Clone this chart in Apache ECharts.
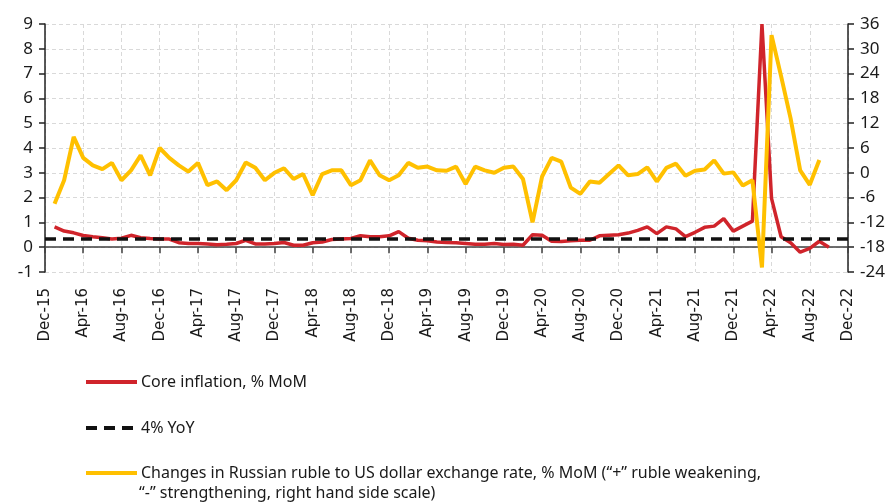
<!DOCTYPE html>
<html>
	<head>
		<meta charset="UTF-8" />
		<title>Core inflation and ruble</title>
		<style>
			html, body { margin: 0; padding: 0; background: #fff; }
			#pic { width: 892px; height: 502px; }
		</style>
	</head>
	<body>
		<div id="pic"></div>
		<script src="https://cdn.jsdelivr.net/npm/echarts@6/dist/echarts.min.js"></script>
		<script>
			// monthly axis Dec-15 .. Dec-22
			var monthNames = ['Jan', 'Feb', 'Mar', 'Apr', 'May', 'Jun', 'Jul', 'Aug', 'Sep', 'Oct', 'Nov', 'Dec'];
			var categories = ['Dec-15'];
			for (var yr = 16; yr <= 22; yr++) {
				for (var mi = 0; mi < 12; mi++) {
					categories.push(monthNames[mi] + '-' + yr);
				}
			}

			// core inflation, % MoM (Jan-16 .. Oct-22), left axis
			var coreInflation = [
				0.82, 0.65, 0.58, 0.47, 0.42, 0.38, 0.33, 0.36, 0.48, 0.38, 0.35, 0.33,
				0.33, 0.18, 0.15, 0.15, 0.13, 0.10, 0.12, 0.15, 0.28, 0.13, 0.13, 0.15,
				0.19, 0.08, 0.08, 0.18, 0.21, 0.31, 0.33, 0.35, 0.46, 0.42, 0.42, 0.46,
				0.63, 0.36, 0.28, 0.26, 0.21, 0.19, 0.18, 0.15, 0.12, 0.12, 0.15, 0.11,
				0.12, 0.08, 0.50, 0.48, 0.24, 0.23, 0.26, 0.28, 0.28, 0.46, 0.48, 0.50,
				0.57, 0.68, 0.82, 0.55, 0.82, 0.74, 0.43, 0.60, 0.80, 0.85, 1.15, 0.65,
				0.85, 1.05, 9.00, 1.97, 0.42, 0.18, -0.20, -0.05, 0.24, 0.00
			];

			// ruble vs USD, % MoM (Jan-16 .. Sep-22), right axis
			var rubleChange = [
				-7.5, -1.8, 8.7, 3.6, 1.8, 0.9, 2.4, -1.8, 0.6, 4.2, -0.6, 6.0,
				3.6, 1.8, 0.3, 2.4, -3.0, -2.1, -4.2, -1.8, 2.5, 1.2, -1.8, 0.0,
				1.1, -1.5, -0.3, -5.4, -0.3, 0.6, 0.6, -3.0, -1.8, 3.0, -0.6, -1.8,
				-0.6, 2.4, 1.2, 1.5, 0.6, 0.5, 1.5, -2.7, 1.5, 0.6, 0.0, 1.2,
				1.5, -1.5, -12.0, -0.9, 3.6, 2.7, -3.6, -5.1, -2.1, -2.4, -0.3, 1.8,
				-0.6, -0.3, 1.3, -2.1, 1.2, 2.2, -0.7, 0.5, 0.8, 3.0, -0.2, 0.1,
				-3.1, -1.8, -22.9, 33.3, 23.4, 13.1, 0.6, -2.9, 3.1
			];

			// 4% YoY expressed as monthly rate
			var targetLevel = [['Dec-15', 0.33], ['Dec-22', 0.33]];

			var leftTicks = { min: -1, max: 9, step: 1 };
			var rightTicks = { min: -24, max: 36, step: 6 };

			var names = [
				'Core inflation, % MoM',
				'4% YoY',
				'Changes in Russian ruble to US dollar exchange rate, % MoM (\u201c+\u201d ruble weakening,'
			];
			var secondLine = '\u201c-\u201d strengthening, right hand side scale)';

			var gridDash = { color: '#d9d9d9', type: [4, 3], width: 1 };
			var txt = '#1a1a1a';

			var myChart = echarts.init(document.getElementById('pic'));
			myChart.setOption({
				animation: false,
				backgroundColor: '#fff',
				title: {
					text: secondLine,
					left: 139,
					top: 485,
					padding: 0,
					textStyle: { fontFamily: 'Noto Sans', fontSize: 16, fontWeight: 'normal', color: txt }
				},
				legend: [0, 1, 2].map(function (i) {
					return {
						data: [names[i]],
						left: 84,
						top: [374, 420, 465][i],
						padding: 0,
						itemWidth: 51,
						itemHeight: 14,
						itemStyle: { opacity: 0 },
						lineStyle: { width: 4 },
						textStyle: { fontFamily: 'Noto Sans', fontSize: 16, color: txt, padding: [0, 0, 0, -1] },
						selectedMode: false
					};
				}),
				grid: { left: 45, right: 44, top: 24, bottom: 230 },
				xAxis: [{
					type: 'category',
					data: categories,
					boundaryGap: false,
					position: 'bottom',
					axisLine: { onZero: true, onZeroAxisIndex: 0, lineStyle: { color: '#404040', width: 1.5 } },
					axisTick: { interval: 3, length: 6, lineStyle: { color: '#404040', width: 1.5 } },
					axisLabel: { show: false },
					splitLine: { show: true, interval: 3, lineStyle: gridDash }
				}, {
					type: 'category',
					data: categories,
					boundaryGap: false,
					position: 'bottom',
					axisLine: { show: false },
					axisTick: { show: false },
					axisLabel: { interval: 3, rotate: 90, margin: 16, fontFamily: 'DejaVu Sans', fontSize: 15, color: txt },
					splitLine: { show: false }
				}],
				yAxis: [{
					type: 'value',
					min: leftTicks.min,
					max: leftTicks.max,
					interval: leftTicks.step,
					axisLine: { show: true, lineStyle: { color: '#222', width: 1.5 } },
					axisTick: { show: true, length: 6, lineStyle: { color: '#222', width: 1.5 } },
					axisLabel: { margin: 12, fontFamily: 'Noto Sans', fontSize: 17, color: txt },
					splitLine: { show: true, lineStyle: gridDash }
				}, {
					type: 'value',
					position: 'right',
					min: rightTicks.min,
					max: rightTicks.max,
					interval: rightTicks.step,
					axisLine: { show: true, lineStyle: { color: '#222', width: 1.5 } },
					axisTick: { show: true, length: 6, lineStyle: { color: '#222', width: 1.5 } },
					axisLabel: { margin: 12, fontFamily: 'Noto Sans', fontSize: 17, color: txt },
					splitLine: { show: false }
				}],
				series: [{
					name: names[0],
					type: 'line',
					yAxisIndex: 0,
					symbol: 'none',
					data: [null].concat(coreInflation),
					lineStyle: { color: '#d0242b', width: 3.5 },
					itemStyle: { color: '#d0242b' }
				}, {
					name: names[1],
					type: 'line',
					yAxisIndex: 0,
					symbol: 'none',
					data: targetLevel,
					lineStyle: { color: '#111', width: 3.5, type: [11, 7] },
					itemStyle: { color: '#111' }
				}, {
					name: names[2],
					type: 'line',
					yAxisIndex: 1,
					symbol: 'none',
					data: [null].concat(rubleChange),
					lineStyle: { color: '#ffc000', width: 4 },
					itemStyle: { color: '#ffc000' }
				}]
			});
		</script>
	</body>
</html>
